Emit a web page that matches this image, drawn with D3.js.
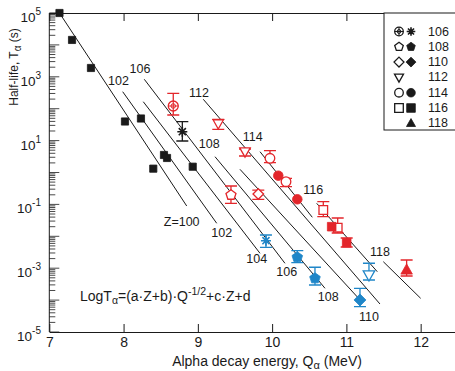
<!DOCTYPE html>
<html>
<head>
<meta charset="utf-8">
<script src="https://cdn.jsdelivr.net/npm/d3@7"></script>
<style>
  body { margin: 0; background: #fff; }
  text { font-family: "Liberation Sans", Arial, sans-serif; }
</style>
</head>
<body>
<div id="chart"></div>
<script>
// ---- data (Q in MeV, T in s) ----
const xTicks = [7, 8, 9, 10, 11, 12];
const yTickExp = [5, 3, 1, -1, -3, -5];

// model lines, one per Z: start / end points
const zLines = [100, 102, 104, 106, 108, 110, 112, 114, 116, 118];
const lineQ0 = [7.137, 7.988, 8.265, 8.279, 9.231, 9.567, 9.073, 9.837, 10.600, 11.497];
const lineQ1 = [8.850, 9.254, 9.837, 10.173, 10.712, 11.206, 11.452, 10.541, 11.416, 12.0];
const lineLogT0 = [5.0, 2.533, 2.219, 2.922, 0.495, 0.100, 2.295, 0.652, -0.966, -2.796];
const lineLogT1 = [-1.050, -1.592, -2.533, -2.846, -3.630, -4.050, -4.122, -1.404, -3.110, -3.944];

// line labels: text, Q, logT
const lineLabels = [
  ["Z=100", 8.782, -1.542], ["102", 9.321, -1.906], ["104", 9.792, -2.721],
  ["106", 10.196, -3.110], ["108", 10.756, -3.893], ["110", 11.304, -4.520],
  ["102", 7.932, 2.853], ["106", 8.221, 3.229], ["112", 9.015, 2.502],
  ["108", 9.154, 0.893], ["114", 9.738, 1.122], ["116", 10.554, -0.549],
  ["118", 11.452, -2.483]
];

// measured points: [Q, T, Thigh, Tlow]
const black100 = [[7.137, 1.0e5], [7.306, 1.43e4], [7.561, 1.89e3], [8.019, 39.7], [8.234, 49.3],
                  [8.400, 1.32], [8.544, 3.54], [8.585, 2.85], [8.931, 1.52]];
const black106 = [[8.791, 19.0, 39.1, 9.7]];
const red106 = [[8.669, 121.6, 304, 63.4]];
const red108Open = [[9.446, 0.197, 0.378, 0.108]];
const red110Open = [[9.814, 0.212, 0.282, 0.1445]];
const red112Open = [[9.275, 34.4, 46.6, 22.6], [9.635, 4.49, 5.46, 3.29]];
const red114Open = [[9.971, 2.79, 4.82, 2.03], [10.187, 0.515, 0.658, 0.359]];
const red114Fill = [[10.083, 0.794], [10.339, 0.1445]];
const red116Open = [[10.689, 0.0667, 0.1216, 0.0411], [10.883, 0.0186, 0.0375, 0.01268]];
const red116Fill = [[10.802, 0.0200], [11.004, 0.0063, 0.00885, 0.00462]];
const red118Fill = [[11.811, 8.79e-4, 1.81e-3, 5.69e-4]];
const blue106 = [[9.917, 7.28e-3, 1.10e-2, 4.52e-3]];
const blue108Fill = [[10.339, 2.20e-3, 3.54e-3, 1.49e-3], [10.577, 4.82e-4, 1.07e-3, 2.97e-4]];
const blue110Fill = [[11.183, 1.01e-4, 2.34e-4, 6.2e-5]];
const blue112Open = [[11.304, 6.12e-4, 1.43e-3, 4.27e-4]];

const legendZ = [106, 108, 110, 112, 114, 116, 118];

// ---- setup ----
const width = 455, height = 371;
const RED = "#e3262b", BLUE = "#1f86c8", INK = "#1a1a1a";

const svg = d3.select("#chart").append("svg")
  .attr("width", width).attr("height", height)
  .style("background", "#fff");

const x = d3.scaleLinear().domain([7, 12.5]).range([49.3, 457.8]);
const y = d3.scaleLog().domain([1e-5, 1e5]).range([332, 13]);

// marker shapes
function shapePath(shape, r) {
  switch (shape) {
    case "square": return `M${-r},${-r}H${r}V${r}H${-r}Z`;
    case "circle": return `M${r},0A${r},${r} 0 1,1 ${-r},0A${r},${r} 0 1,1 ${r},0Z`;
    case "diamond": return `M0,${-r * 1.15}L${r * 1.15},0L0,${r * 1.15}L${-r * 1.15},0Z`;
    case "tri": return `M0,${-r * 1.1}L${r * 1.05},${r * 0.75}L${-r * 1.05},${r * 0.75}Z`;
    case "itri": return `M${-r * 1.05},${-r * 0.75}L${r * 1.05},${-r * 0.75}L0,${r * 1.1}Z`;
    case "pent": {
      const pts = d3.range(5).map(i => {
        const a = -Math.PI / 2 + i * 2 * Math.PI / 5;
        return [r * 1.05 * Math.cos(a), r * 1.05 * Math.sin(a)];
      });
      return "M" + pts.join("L") + "Z";
    }
    case "star": {
      let p = "";
      d3.range(4).forEach(i => {
        const a = i * Math.PI / 4;
        p += `M${r * Math.cos(a)},${r * Math.sin(a)}L${-r * Math.cos(a)},${-r * Math.sin(a)}`;
      });
      return p;
    }
  }
}

function drawMarker(g, shape, filled, color, r) {
  if (shape === "ccross") {
    g.append("path").attr("d", shapePath("circle", r))
      .attr("fill", "#fff").attr("stroke", color).attr("stroke-width", 1.3);
    g.append("path").attr("d", `M${-r},0H${r}M0,${-r}V${r}`)
      .attr("stroke", color).attr("stroke-width", 1.1);
    g.append("path").attr("d", shapePath("circle", r * 0.45))
      .attr("fill", "none").attr("stroke", color).attr("stroke-width", 1);
    return;
  }
  if (shape === "star") {
    g.append("path").attr("d", shapePath("star", r))
      .attr("stroke", color).attr("stroke-width", 1.6).attr("fill", "none");
    g.append("path").attr("d", shapePath("circle", r * 0.35)).attr("fill", color);
    return;
  }
  g.append("path").attr("d", shapePath(shape, r))
    .attr("fill", filled ? color : "#fff")
    .attr("stroke", color).attr("stroke-width", filled ? 0.8 : 1.3);
}

const series = [
  { data: black100, shape: "square", filled: true, color: INK, r: 3.6 },
  { data: black106, shape: "star", filled: true, color: INK, r: 5 },
  { data: red106, shape: "ccross", filled: false, color: RED, r: 5 },
  { data: red108Open, shape: "pent", filled: false, color: RED, r: 5 },
  { data: red110Open, shape: "diamond", filled: false, color: RED, r: 4.6 },
  { data: red112Open, shape: "itri", filled: false, color: RED, r: 5 },
  { data: red114Open, shape: "circle", filled: false, color: RED, r: 4.8 },
  { data: red114Fill, shape: "circle", filled: true, color: RED, r: 4.8 },
  { data: red116Open, shape: "square", filled: false, color: RED, r: 4.3 },
  { data: red116Fill, shape: "square", filled: true, color: RED, r: 4.3 },
  { data: red118Fill, shape: "tri", filled: true, color: RED, r: 5.5 },
  { data: blue106, shape: "star", filled: true, color: BLUE, r: 5 },
  { data: blue108Fill, shape: "pent", filled: true, color: BLUE, r: 5.3 },
  { data: blue110Fill, shape: "diamond", filled: true, color: BLUE, r: 5.2 },
  { data: blue112Open, shape: "itri", filled: false, color: BLUE, r: 5.5 }
];

// ---- axes ----
const axisG = svg.append("g").attr("color", INK);

axisG.append("g")
  .attr("transform", `translate(0,332)`)
  .call(d3.axisBottom(x).tickValues(xTicks).tickSize(-8).tickSizeOuter(0)
    .tickPadding(5).tickFormat(d3.format("d")))
  .call(g => g.selectAll("text").attr("font-size", 14).attr("fill", INK))
  .call(g => g.selectAll("line,path").attr("stroke", INK));

axisG.append("g")
  .attr("transform", `translate(0,13)`)
  .call(d3.axisTop(x).tickValues(xTicks).tickSize(-8).tickSizeOuter(0).tickFormat(""))
  .call(g => g.selectAll("line,path").attr("stroke", INK));

// left axis with log minor ticks
const x0 = x(7);
axisG.append("line").attr("x1", x0).attr("x2", x0).attr("y1", 13).attr("y2", 332)
  .attr("stroke", INK);
const decades = d3.range(-5, 5);
decades.forEach(e => {
  d3.range(1, 10).forEach(m => {
    const v = m * Math.pow(10, e);
    axisG.append("line")
      .attr("x1", x0).attr("x2", x0 + (m === 1 ? 10 : 6))
      .attr("y1", y(v)).attr("y2", y(v))
      .attr("stroke", INK).attr("stroke-width", 0.8);
  });
});
axisG.append("line").attr("x1", x0).attr("x2", x0 + 10)
  .attr("y1", y(1e5)).attr("y2", y(1e5)).attr("stroke", INK);

yTickExp.forEach(e => {
  const t = svg.append("text")
    .attr("x", 41).attr("y", y(Math.pow(10, e)) + 9)
    .attr("text-anchor", "end").attr("font-size", 13.5).attr("fill", INK);
  t.append("tspan").text("10");
  t.append("tspan").attr("font-size", 10).attr("dy", -7).text(e < 0 ? "-" + (-e) : e);
});

// axis titles
const xt = svg.append("text")
  .attr("x", 267).attr("y", 366)
  .attr("text-anchor", "middle").attr("font-size", 14).attr("fill", INK);
xt.append("tspan").text("Alpha decay energy,  Q");
xt.append("tspan").attr("font-size", 11).attr("dy", 3).text("α");
xt.append("tspan").attr("dy", -3).text(" (MeV)");

const yt = svg.append("text")
  .attr("transform", "translate(18,67) rotate(-90)")
  .attr("text-anchor", "middle").attr("font-size", 12).attr("fill", INK);
yt.append("tspan").text("Half-life,  T");
yt.append("tspan").attr("font-size", 10).attr("dy", 3).text("α");
yt.append("tspan").attr("dy", -3).text(" (s)");

// ---- model lines ----
const lineGen = d3.line().x(d => x(d[0])).y(d => y(d[1]));
svg.append("g").selectAll("path")
  .data(zLines.map((z, i) => [[lineQ0[i], Math.pow(10, lineLogT0[i])], [lineQ1[i], Math.pow(10, lineLogT1[i])]]))
  .enter().append("path")
  .attr("d", lineGen)
  .attr("fill", "none").attr("stroke", INK).attr("stroke-width", 1);

svg.append("g").selectAll("text")
  .data(lineLabels)
  .enter().append("text")
  .attr("x", d => x(d[1])).attr("y", d => y(Math.pow(10, d[2])))
  .attr("text-anchor", "middle").attr("dominant-baseline", "central")
  .attr("font-size", 12.5).attr("fill", INK)
  .text(d => d[0]);

// ---- error bars & markers ----
const pts = svg.append("g");
series.forEach(s => {
  s.data.forEach(d => {
    const cx = x(d[0]), cy = y(d[1]);
    if (d.length > 2) {
      const yh = y(d[2]), yl = y(d[3]);
      pts.append("path")
        .attr("d", `M${cx},${yh}V${yl}M${cx - 6},${yh}H${cx + 6}M${cx - 6},${yl}H${cx + 6}`)
        .attr("stroke", s.color).attr("stroke-width", 1.3).attr("fill", "none");
    }
  });
});
series.forEach(s => {
  s.data.forEach(d => {
    const g = pts.append("g").attr("transform", `translate(${x(d[0])},${y(d[1])})`);
    drawMarker(g, s.shape, s.filled, s.color, s.r);
  });
});

// ---- formula ----
const f = svg.append("text").attr("x", 80).attr("y", 301)
  .attr("font-size", 14).attr("fill", INK);
f.append("tspan").text("LogT");
f.append("tspan").attr("font-size", 10.5).attr("dy", 3).text("α");
f.append("tspan").attr("dy", -3).text("=(a·Z+b)·Q");
f.append("tspan").attr("font-size", 10.5).attr("dy", -6).text("-1/2");
f.append("tspan").attr("dy", 6).text("+c·Z+d");

// ---- legend ----
const lg = svg.append("g");
lg.append("rect").attr("x", 384).attr("y", 13).attr("width", 80).attr("height", 117)
  .attr("fill", "#fff").attr("stroke", INK).attr("stroke-width", 1);
const legendOpen = { 106: "ccross", 108: "pent", 110: "diamond", 112: "itri", 114: "circle", 116: "square" };
const legendFill = { 106: "star", 108: "pent", 110: "diamond", 114: "circle", 116: "square", 118: "tri" };
legendZ.forEach((z, i) => {
  const ly = 31.5 + i * 15.3;
  if (legendOpen[z]) {
    drawMarker(lg.append("g").attr("transform", `translate(399,${ly})`), legendOpen[z], false, INK, 4.3);
  }
  if (legendFill[z]) {
    drawMarker(lg.append("g").attr("transform", `translate(411,${ly})`), legendFill[z], true, INK, 4.3);
  }
  lg.append("text").attr("x", 428).attr("y", ly).attr("dominant-baseline", "central")
    .attr("font-size", 12.5).attr("fill", INK).text(z);
});
</script>
</body>
</html>
